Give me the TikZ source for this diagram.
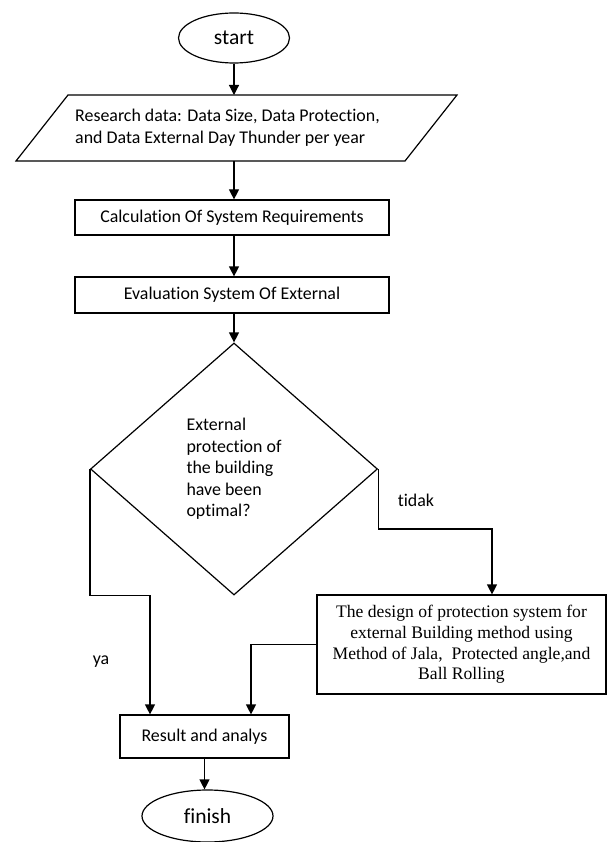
\documentclass[tikz,border=0pt]{standalone}
\usepackage{fontspec}
\setmainfont{Carlito}[Ligatures={NoCommon,NoContextual}]
\newfontfamily\serifface{Liberation Serif}
\usetikzlibrary{arrows.meta,shapes.geometric,calc}
\tikzset{
  box/.style={draw,line width=1.2pt,rectangle,inner sep=0pt,font=\fontsize{17.9}{22}\selectfont},
  term/.style={draw,line width=1.2pt,ellipse,inner sep=0pt,font=\fontsize{21.5}{25}\selectfont},
  arr/.style={line width=1.2pt,-{Triangle[length=10pt,width=10pt]}},
  lbl/.style={font=\fontsize{17.9}{22}\selectfont,inner sep=0pt}
}
\begin{document}
\begin{tikzpicture}[x=1pt,y=-1pt]
\useasboundingbox (0,0) rectangle (607,842);
% start
\node[term,minimum width=111,minimum height=50] (start) at (234,38) {start};
% parallelogram
\coordinate (p1) at (16,161);
\coordinate (p2) at (405,161);
\coordinate (p3) at (457,95);
\coordinate (p4) at (68,95);
\draw[line width=1.2pt] (p1) -- (p2) -- (p3) -- (p4) -- cycle;
\node[lbl,align=left,anchor=west,font=\fontsize{17.9}{21.5}\selectfont] (data) at (75,127.5)
  {Research data: Data Size, Data Protection,\\and Data External Day Thunder per year};
% process boxes
\node[box,minimum width=314,minimum height=35] (calc) at (232,217.5) {Calculation Of System Requirements};
\node[box,minimum width=314,minimum height=36] (eval) at (232,295) {Evaluation System Of External};
% decision
\node[draw,line width=1.2pt,diamond,aspect=1.14,minimum width=287,minimum height=252,inner sep=0pt,
      align=left,font=\fontsize{17.9}{21.5}\selectfont] (dec) at (234,469)
  {External\\protection of\hspace*{12pt}\\the building\\have been\\optimal?};
% design box
\node[box,minimum width=289,minimum height=99,align=center,
      font=\serifface\fontsize{17.6}{20.7}\selectfont] (des) at (461.5,644.5)
  {The design of protection system for\\external Building method using\\Method of Jala,\ \ Protected angle,and\\Ball Rolling};
% result
\node[box,minimum width=169,minimum height=43] (res) at (204.5,736.5) {Result and analys};
% finish
\node[term,minimum width=131,minimum height=52] (fin) at (207.5,816) {finish};
% connectors
\draw[arr] (start.south) -- (start.south |- p4);
\draw[arr] (start.south |- p1) -- (start.south |- calc.north);
\draw[arr] (start.south |- calc.south) -- (start.south |- eval.north);
\draw[arr] (start.south |- eval.south) -- (dec.north);
\draw[arr] (dec.west) -- (dec.west |- dec.south) -| ([xshift=-54.5pt]res.north);
\draw[arr] (dec.east) -- ++(0,60) -| ([xshift=30.5pt]des.north);
\draw[arr] (des.west) -| ([xshift=46.5pt]res.north);
\draw[arr] (res.south) -- (res.south |- fin.north);
% labels
\node[lbl] (ya) at (101,662) {ya};
\node[lbl] (tidak) at (416,500) {tidak};
\end{tikzpicture}
\end{document}
